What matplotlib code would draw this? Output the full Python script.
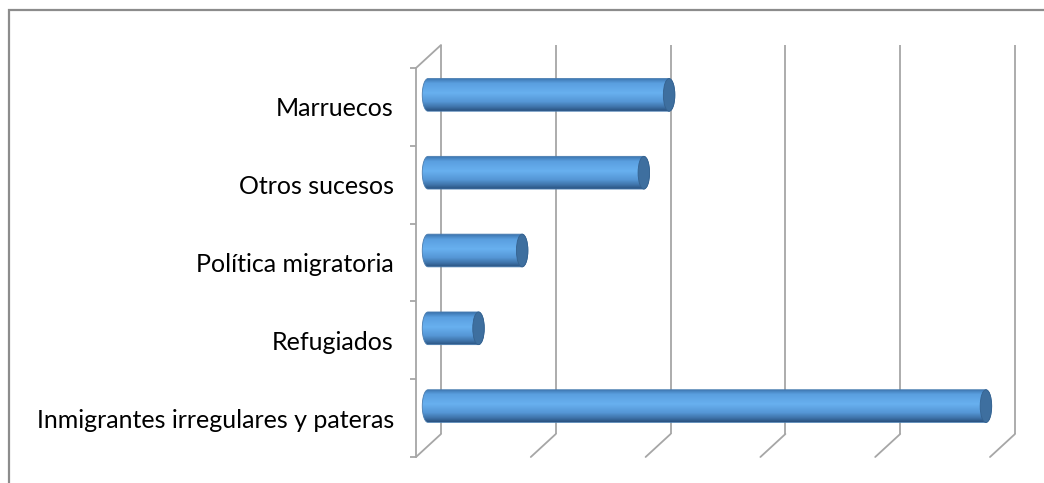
import numpy as np
import matplotlib
matplotlib.use("Agg")
import matplotlib.pyplot as plt
from matplotlib.colors import LinearSegmentedColormap
from matplotlib.patches import PathPatch, Ellipse, Rectangle, ConnectionPatch
from matplotlib.path import Path
from matplotlib.transforms import ScaledTranslation

categories = ["Marruecos", "Otros sucesos", "Política migratoria",
              "Refugiados", "Inmigrantes irregulares y pateras"]
values = [21.0, 18.8, 8.2, 4.4, 48.6]
grid_ticks = [0, 10, 20, 30, 40, 50]

GRID = "#a6a6a6"
W, H, DPI = 1044, 483, 100

fig = plt.figure(figsize=(W / DPI, H / DPI), dpi=DPI)
# front plane of the 3d box
ax = fig.add_axes([416 / W, 26 / H, 574 / W, 389 / H])
ax.set_xlim(0, 50)
ax.set_ylim(4.5, -0.5)
ax.patch.set_alpha(0)

# depth offsets (back wall and middle of the box where the cylinders sit)
back = ax.transData + ScaledTranslation(0.25, 0.23, fig.dpi_scale_trans)
mid = ax.transData + ScaledTranslation(0.12, 0.12, fig.dpi_scale_trans)

# axis styling: only the front vertical axis is left
for s in ["top", "right", "bottom"]:
    ax.spines[s].set_visible(False)
ax.spines["left"].set_color(GRID)
ax.spines["left"].set_linewidth(1.3)
ax.set_xticks([])
ax.set_yticks(range(len(categories)))
ax.set_yticklabels(categories, fontsize=18, family=["Lato", "DejaVu Sans"])
ax.set_yticks(np.arange(-0.5, len(categories), 1.0), minor=True)
ax.tick_params(axis="y", which="major", length=0, pad=16)
ax.tick_params(axis="y", which="minor", length=4, width=1.3, color=GRID)

# back wall gridlines
ax.vlines(grid_ticks, -0.5, 4.5, colors=GRID, lw=1.3, transform=back,
          zorder=1, clip_on=False)
# floor edges running from front to back
for t in grid_ticks:
    ax.add_artist(ConnectionPatch((t, 4.5), (t, 4.5), coordsA=ax.transData,
                                  coordsB=back, color=GRID, lw=1.3, zorder=1))
ax.add_artist(ConnectionPatch((0, -0.5), (0, -0.5), coordsA=ax.transData,
                              coordsB=back, color=GRID, lw=1.3, zorder=1))

# cylinder shading
cyl = LinearSegmentedColormap.from_list("cyl", [
    (0.0, "#3b74ae"), (0.15, "#5a9fe0"), (0.45, "#68b0ef"),
    (0.72, "#5596d5"), (0.88, "#3f74aa"), (1.0, "#2a5280")])
grad = np.linspace(0, 1, 64).reshape(-1, 1)

bar_h = 0.42
cap_w = 1.0
a, b = cap_w / 2, bar_h / 2
t_left = np.linspace(np.pi / 2, 3 * np.pi / 2, 30)
t_right = np.linspace(-np.pi / 2, np.pi / 2, 30)

for i, v in enumerate(values):
    xs = np.concatenate([a * np.cos(t_left), v + a * np.cos(t_right)])
    ys = np.concatenate([i - b * np.sin(t_left), i - b * np.sin(t_right)])
    verts = np.column_stack([xs, ys])
    verts = np.vstack([verts, verts[:1]])
    path = Path(verts, closed=True)
    body = PathPatch(path, transform=mid, facecolor="none",
                     edgecolor="#4a7db0", lw=0.6, zorder=3, clip_on=False)
    ax.add_patch(body)
    im = ax.imshow(grad, cmap=cyl, aspect="auto", interpolation="bilinear",
                   extent=(-a, v + a, i + b, i - b), transform=mid, zorder=2)
    im.set_clip_path(body)
    cap = Ellipse((v, i), cap_w, bar_h, transform=mid, clip_on=False,
                  facecolor="#3e6f9f", edgecolor="#35628f", lw=0.6, zorder=4)
    ax.add_patch(cap)

ax.set_xlim(0, 50)
ax.set_ylim(4.5, -0.5)

# outer chart border
fig.patches.append(Rectangle((9 / W, -0.1), 1.2, (H - 10) / H + 0.1,
                             transform=fig.transFigure, fill=False,
                             edgecolor="#8c8c8c", lw=1.6))

fig.savefig("out.png", dpi=DPI)
